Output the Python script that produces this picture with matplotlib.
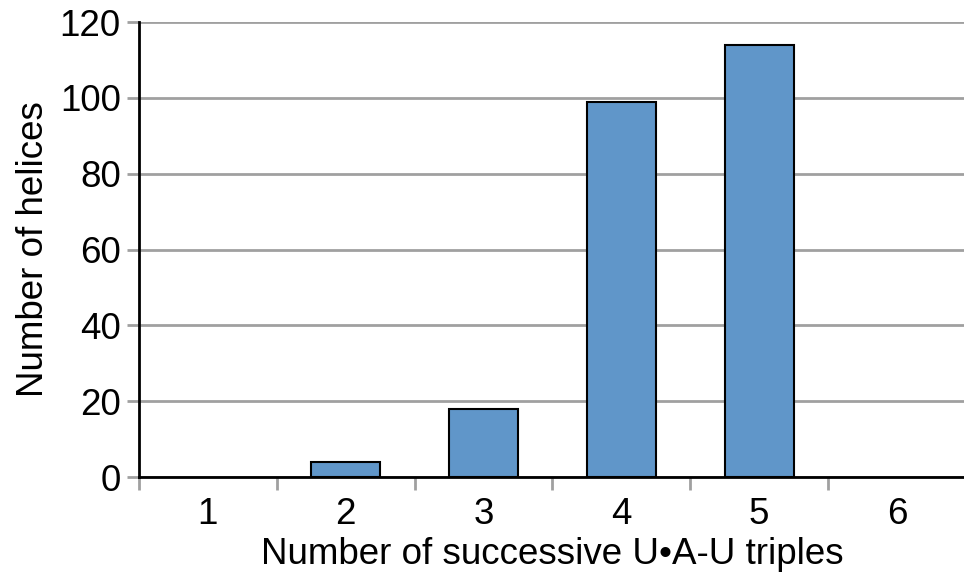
import numpy as np
import matplotlib.pyplot as plt

triples = [1, 2, 3, 4, 5, 6]
helices = [0, 4, 18, 99, 114, 0]

plt.rcParams['font.family'] = ['Liberation Sans', 'DejaVu Sans']

fig = plt.figure(figsize=(9.64, 5.79), dpi=100)
ax = fig.add_axes([0.144, 0.176, 0.858, 0.786])

# empty categories get no outline
edge_widths = [1.5 if h > 0 else 0 for h in helices]
ax.bar(triples, helices, width=0.5, color="#6096c9", edgecolor="black",
       linewidth=edge_widths, zorder=3)

ax.set_xlim(0.5, 6.5)
ax.set_ylim(0, 120)
ax.set_yticks(range(0, 121, 20))
ax.yaxis.grid(True, color="#a0a0a0", linewidth=2, zorder=0)
ax.tick_params(axis="y", length=9, width=2, color="#a0a0a0", labelsize=26.5, pad=4)

ax.set_xticks(triples)
ax.set_xticks(np.arange(0.5, 7, 1), minor=True)
ax.tick_params(axis="x", which="major", length=0, labelsize=26.5, pad=14)
ax.tick_params(axis="x", which="minor", length=9, width=2, color="#a0a0a0")

for side in ["top", "right"]:
    ax.spines[side].set_visible(False)
ax.spines["left"].set_linewidth(2)
ax.spines["bottom"].set_linewidth(2)

ax.set_xlabel("Number of successive U\u2022A-U triples", fontsize=26.5, labelpad=4)
ax.set_ylabel("Number of helices", fontsize=26.5, labelpad=6)

fig.savefig("out.png", dpi=100)
